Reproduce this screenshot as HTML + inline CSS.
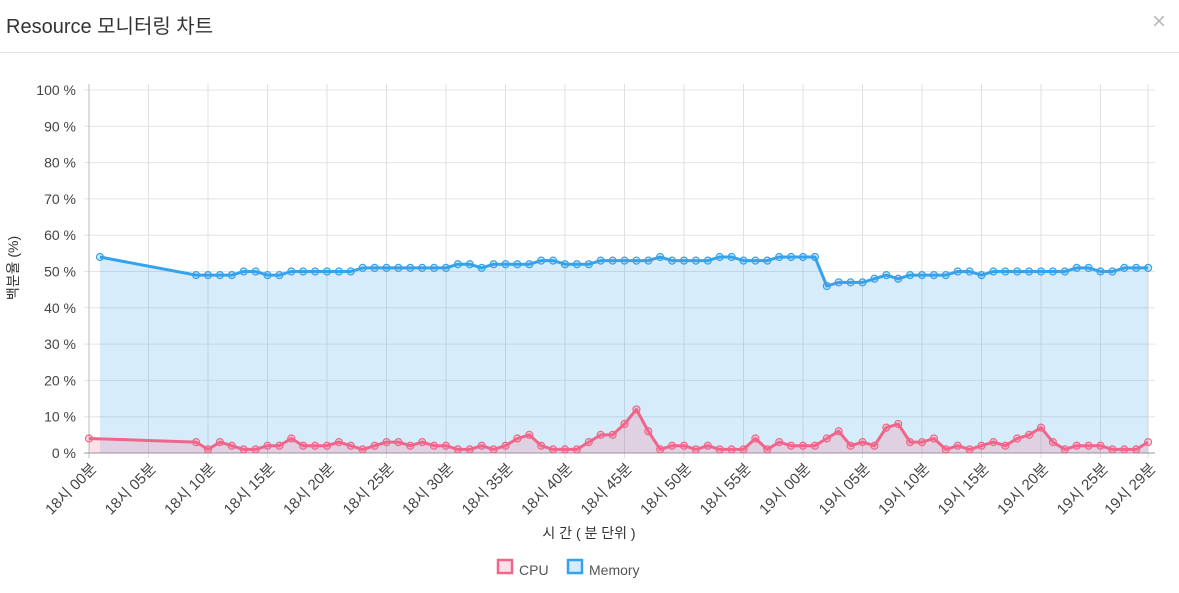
<!DOCTYPE html>
<html><head><meta charset="utf-8"><style>
body{margin:0;background:#fff;width:1179px;height:593px;overflow:hidden;font-family:"Liberation Sans","Noto Sans CJK KR",sans-serif}
.hdr{position:absolute;left:0;top:0;width:1179px;height:52px;border-bottom:1px solid #e5e5e5}
.hdr .t{position:absolute;left:6px;top:10px;font-size:20px;color:#333}
.hdr .x{position:absolute;left:1152px;top:8px;font-size:24px;color:#bbb}
svg{position:absolute;left:0;top:0}
svg text{font-family:"Liberation Sans","Noto Sans CJK KR",sans-serif}
</style></head><body>
<div class="hdr"><div class="t">Resource 모니터링 차트</div><div class="x">×</div></div>
<svg id="s" width="1179" height="593" xmlns="http://www.w3.org/2000/svg"></svg>
<script>
var s=document.getElementById('s'),h='';
var X0=89,PX=11.9,Y0=453,PY=3.63;
function X(m){return X0+m*PX}function Y(v){return Y0-v*PY}
for(var i=0;i<=10;i++){var y=Y(i*10);h+='<line x1="84" x2="1155" y1="'+y+'" y2="'+y+'" stroke="#e4e4e4"/>';
h+='<text x="76" y="'+(y+5)+'" font-size="14" fill="#444" text-anchor="end">'+(i*10)+' %</text>';}
var labs=[];for(var m=0;m<=85;m+=5)labs.push(m);labs.push(89);
labs.forEach(function(m){var x=X(m);h+='<line x1="'+x+'" x2="'+x+'" y1="84" y2="458" stroke="#e0e0e0"/>';
var hh=18+Math.floor(m/60),mm=m%60;var t=hh+'시 '+(mm<10?'0':'')+mm+'분';
h+='<text transform="translate('+(x+1)+',462) rotate(-45)" font-size="15" fill="#444" text-anchor="end" dy="0.7em">'+t+'</text>';});
h+='<line x1="'+X0+'" x2="'+X0+'" y1="84" y2="458" stroke="#bbb"/>';
h+='<line x1="84" x2="1155" y1="'+Y0+'" y2="'+Y0+'" stroke="#999"/>';
var mem=[49,49,49,49,50,50,49,49,50,50,50,50,50,50,51,51,51,51,51,51,51,51,52,52,51,52,52,52,52,53,53,52,52,52,53,53,53,53,53,54,53,53,53,53,54,54,53,53,53,54,54,54,54,46,47,47,47,48,49,48,49,49,49,49,50,50,49,50,50,50,50,50,50,50,51,51,50,50,51,51,51];
var cpu=[3,1,3,2,1,1,2,2,4,2,2,2,3,2,1,2,3,3,2,3,2,2,1,1,2,1,2,4,5,2,1,1,1,3,5,5,8,12,6,1,2,2,1,2,1,1,1,4,1,3,2,2,2,4,6,2,3,2,7,8,3,3,4,1,2,1,2,3,2,4,5,7,3,1,2,2,2,1,1,1,3];
var mp=[[0.92,54]],cp=[[0,4]];
for(var i=0;i<mem.length;i++){mp.push([9+i,mem[i]]);cp.push([9+i,cpu[i]]);}
function series(p,line,fill){var d=p.map(function(q,i){return(i?'L':'M')+X(q[0]).toFixed(1)+' '+Y(q[1]).toFixed(1)}).join(' ');
var r='<path d="'+d+' L'+X(p[p.length-1][0])+' '+Y0+' L'+X(p[0][0])+' '+Y0+' Z" fill="'+fill+'"/>';
r+='<path d="'+d+'" fill="none" stroke="'+line+'" stroke-width="3" stroke-linejoin="round"/>';
p.forEach(function(q){r+='<circle cx="'+X(q[0])+'" cy="'+Y(q[1])+'" r="3.5" fill="'+fill+'" stroke="'+line+'" stroke-width="1.2"/>'});return r;}
h+=series(mp,'#36a2eb','rgba(54,162,235,0.2)');
h+=series(cp,'#f0668a','rgba(255,99,132,0.2)');
h+='<text transform="translate(18,268) rotate(-90)" font-size="14" fill="#333" text-anchor="middle">백분율 (%)</text>';
h+='<text x="589" y="538" font-size="14" fill="#333" text-anchor="middle">시 간 ( 분 단위 )</text>';
h+='<rect x="498" y="560" width="14" height="13" fill="rgba(255,99,132,0.2)" stroke="#f0668a" stroke-width="2.5"/>';
h+='<text x="519" y="575" font-size="14" fill="#555">CPU</text>';
h+='<rect x="568" y="560" width="14" height="13" fill="rgba(54,162,235,0.2)" stroke="#36a2eb" stroke-width="2.5"/>';
h+='<text x="589" y="575" font-size="14" fill="#555">Memory</text>';
s.innerHTML=h;
</script>
</body></html>
